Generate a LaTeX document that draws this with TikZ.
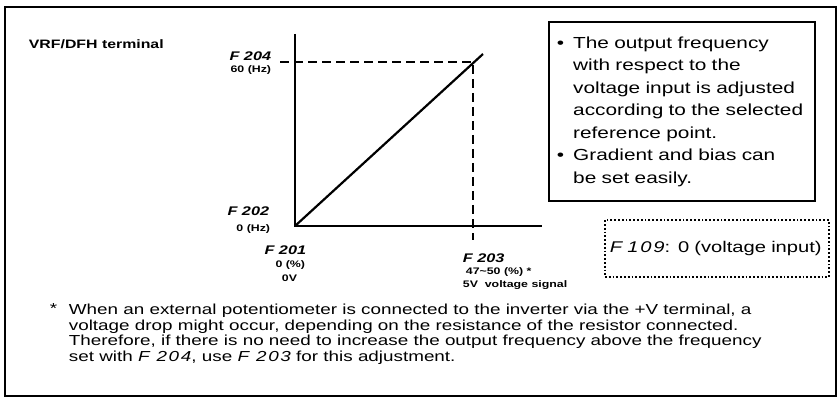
\documentclass[tikz,border=0pt]{standalone}
\usepackage{fontspec}
\setmainfont{Liberation Sans}[FakeStretch=1.3]
\usetikzlibrary{positioning,calc}
\newcommand{\segnum}[1]{{\itshape\addfontfeature{LetterSpace=12}#1}}

\begin{document}
\begin{tikzpicture}[x=1pt,y=-1pt,line width=1.8pt,
  lbl/.style={inner sep=0pt,font=\fontsize{9.5}{11}\selectfont\bfseries},
  seg/.style={inner sep=0pt,font=\fontsize{12.5}{13}\selectfont\bfseries\itshape},
  guide/.style={line width=2pt,dash pattern=on 9pt off 5pt}]
\useasboundingbox (0,0) rectangle (840,398);
% Outer frame
\draw (5,7) rectangle (836,396);
% Title
\node[anchor=west,inner sep=0pt,font=\fontsize{12.2}{14}\selectfont\bfseries] (title) at (28,44) {VRF/DFH terminal};
% Axes
\coordinate (orig) at (295,226);
\coordinate (ytop) at (295,34);
\coordinate (xend) at (542,226);
\draw[line width=2.2pt] (ytop) -- (orig) -- (xend);
% Characteristic
\coordinate (lend) at (483,54);
\draw[line width=2.2pt] (orig) -- (lend);
% Reference point
\coordinate (ref) at (473,62);
\coordinate (ytick) at (280,62);
\coordinate (xtick) at (473,240);
\draw[guide] (ytick) -- (ref) -- (xtick);
% Axis labels
\node[seg,anchor=east] (f204) at (272,56) {F 204};
\node[lbl,anchor=east] (hzmax) at (272,70) {60 (Hz)};
\node[seg,anchor=east] (f202) at (270,211) {F 202};
\node[lbl,anchor=east] (hzmin) at (271,229) {0 (Hz)};
\node[seg,anchor=east] (f201) at (307,250) {F 201};
\node[lbl,anchor=east] (pctmin) at (306,265) {0 (\%)};
\node[lbl,anchor=west] (vmin) at (281,278) {0V};
\node[seg,anchor=west] (f203) at (462,258) {F 203};
\node[lbl,anchor=west] (pctmax) at (465,272) {47\textasciitilde50 (\%) *};
\node[lbl,anchor=west] (vmax) at (462,285) {5V\ \ voltage signal};
% Explanation box
\node[draw,anchor=north west,inner xsep=8pt,inner ysep=0pt,minimum width=266pt,
  minimum height=179pt,text width=250pt,align=left,
  font=\fontsize{16}{22.5}\selectfont] (info) at (548,21)
  {\begin{tabular}{@{}l@{\hspace{9pt}}l@{}}
   \textbullet & The output frequency\\
   & with respect to the\\
   & voltage input is adjusted\\
   & according to the selected\\
   & reference point.\\
   \textbullet & Gradient and bias can\\
   & be set easily.
   \end{tabular}};
% Parameter setting
\node[draw,dotted,anchor=north west,inner xsep=5pt,minimum width=224pt,
  minimum height=57pt,text width=214pt,align=left,
  font=\fontsize{15.5}{17}\selectfont] (param) at (604,219)
  {\segnum{F 109}: 0 (voltage input)};
% Footnote
\node[anchor=north west,inner sep=0pt,align=left,
  font=\fontsize{14.5}{15.7}\selectfont] (note) at (68,303)
  {When an external potentiometer is connected to the inverter via the +V terminal, a\\
   voltage drop might occur, depending on the resistance of the resistor connected.\\
   Therefore, if there is no need to increase the output frequency above the frequency\\
   set with \segnum{F 204}, use \segnum{F 203} for this adjustment.};
\node[anchor=north east,inner sep=0pt,font=\fontsize{14.5}{15.7}\selectfont] (star) at ([xshift=-10pt]note.north west) {*};
\end{tikzpicture}
\end{document}
